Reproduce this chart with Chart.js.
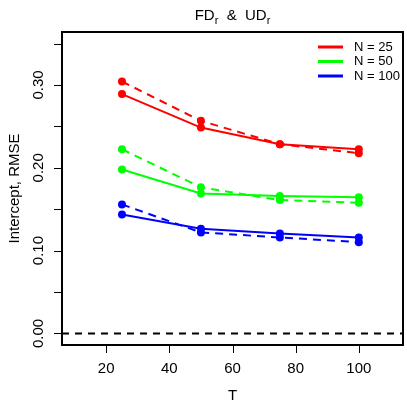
<!DOCTYPE html>
<html>
<head>
<meta charset="utf-8">
<script src="https://cdn.jsdelivr.net/npm/chart.js@4/dist/chart.umd.min.js"></script>
<style>
html,body{margin:0;padding:0;background:#fff;}
#wrap{width:407px;height:407px;}
</style>
</head>
<body>
<div id="wrap"><canvas id="c" width="407" height="407"></canvas></div>
<script>
const T_values = [25, 50, 75, 100];
const n25_solid  = [0.289, 0.2486, 0.2285, 0.2224];
const n25_dashed = [0.3042, 0.2567, 0.2285, 0.2176];
const n50_solid  = [0.198, 0.169, 0.1659, 0.1643];
const n50_dashed = [0.2224, 0.1764, 0.161, 0.1578];
const n100_solid  = [0.1437, 0.1263, 0.1207, 0.1159];
const n100_dashed = [0.1558, 0.1219, 0.1159, 0.1102];
const legendLabels = ["N = 25", "N = 50", "N = 100"];
const seriesColors = ["#ff0000", "#00ff00", "#0000ff"];
const xTicks = [20, 40, 60, 80, 100];
const yTicks = [0, 0.05, 0.10, 0.15, 0.20, 0.25, 0.30, 0.35];
const yLabelTicks = [0, 0.10, 0.20, 0.30];
const yLabels = ["0.00", "0.10", "0.20", "0.30"];

const FONT = "'Liberation Sans', Arial, Helvetica, sans-serif";

function mk(vals, color, dashed) {
  return {
    data: T_values.map((t, i) => ({x: t, y: vals[i]})),
    borderColor: color,
    backgroundColor: color,
    pointBackgroundColor: color,
    pointBorderColor: color,
    pointRadius: 4,
    pointBorderWidth: 0,
    borderWidth: 2,
    borderDash: dashed ? [8, 6] : [],
    fill: false,
    tension: 0
  };
}

const axesPlugin = {
  id: 'rstyle',
  beforeDatasetsDraw(chart) {
    const {ctx, chartArea: a, scales: {x, y}} = chart;
    ctx.save();
    ctx.strokeStyle = '#000';
    ctx.lineWidth = 2;
    ctx.setLineDash([7, 6]);
    const y0 = y.getPixelForValue(0);
    ctx.beginPath();
    ctx.moveTo(a.left, y0);
    ctx.lineTo(a.right, y0);
    ctx.stroke();
    ctx.restore();
  },
  afterDraw(chart) {
    const {ctx, chartArea: a, scales: {x, y}} = chart;
    ctx.save();
    ctx.strokeStyle = '#000';
    ctx.lineWidth = 2;
    ctx.setLineDash([]);
    ctx.strokeRect(a.left, a.top, a.right - a.left, a.bottom - a.top);
    ctx.lineWidth = 1;
    ctx.fillStyle = '#000';
    ctx.font = '15px ' + FONT;
    ctx.textAlign = 'center';
    ctx.textBaseline = 'middle';
    xTicks.forEach(v => {
      const px = Math.round(x.getPixelForValue(v)) + 0.5;
      ctx.beginPath();
      ctx.moveTo(px, a.bottom + 1);
      ctx.lineTo(px, a.bottom + 8);
      ctx.stroke();
      ctx.fillText(String(v), x.getPixelForValue(v), a.bottom + 24);
    });
    yTicks.forEach(v => {
      const py = Math.round(y.getPixelForValue(v)) + 0.5;
      ctx.beginPath();
      ctx.moveTo(a.left - 1, py);
      ctx.lineTo(a.left - 8, py);
      ctx.stroke();
    });
    yLabelTicks.forEach((v, i) => {
      const py = y.getPixelForValue(v);
      ctx.save();
      ctx.translate(a.left - 23, py);
      ctx.rotate(-Math.PI / 2);
      ctx.fillText(yLabels[i], 0, 0);
      ctx.restore();
    });
    ctx.fillText('T', (a.left + a.right) / 2, a.bottom + 51);
    ctx.save();
    ctx.translate(15, (a.top + a.bottom) / 2);
    ctx.rotate(-Math.PI / 2);
    ctx.fillText('Intercept, RMSE', 0, 0);
    ctx.restore();
    const big = '15px ' + FONT, small = '11px ' + FONT;
    const parts = [
      {t: 'FD', f: big, dy: 0},
      {t: 'r', f: small, dy: 4},
      {t: '  &  ', f: big, dy: 0},
      {t: 'UD', f: big, dy: 0},
      {t: 'r', f: small, dy: 4}
    ];
    let total = 0;
    parts.forEach(p => { ctx.font = p.f; p.w = ctx.measureText(p.t).width; total += p.w; });
    let cx = (a.left + a.right) / 2 - total / 2;
    ctx.textAlign = 'left';
    ctx.textBaseline = 'alphabetic';
    parts.forEach(p => {
      ctx.font = p.f;
      ctx.fillText(p.t, cx, 20 + p.dy);
      cx += p.w;
    });
    ctx.font = '13px ' + FONT;
    ctx.textBaseline = 'middle';
    const rows = [47, 61.5, 76];
    legendLabels.forEach((lab, i) => {
      ctx.strokeStyle = seriesColors[i];
      ctx.lineWidth = 3;
      ctx.beginPath();
      ctx.moveTo(318, rows[i]);
      ctx.lineTo(343, rows[i]);
      ctx.stroke();
      ctx.fillStyle = '#000';
      ctx.fillText(lab, 354, rows[i]);
    });
    ctx.restore();
  }
};

new Chart(document.getElementById('c'), {
  type: 'line',
  data: {
    datasets: [
      mk(n25_solid, seriesColors[0], false),
      mk(n25_dashed, seriesColors[0], true),
      mk(n50_solid, seriesColors[1], false),
      mk(n50_dashed, seriesColors[1], true),
      mk(n100_solid, seriesColors[2], false),
      mk(n100_dashed, seriesColors[2], true)
    ]
  },
  options: {
    responsive: false,
    animation: false,
    devicePixelRatio: 1,
    layout: {padding: {left: 62, right: 3, top: 32, bottom: 62}},
    plugins: {legend: {display: false}, title: {display: false}, tooltip: {enabled: false}},
    scales: {
      x: {type: 'linear', min: 6, max: 114, display: false},
      y: {type: 'linear', min: -0.014, max: 0.364, display: false}
    }
  },
  plugins: [axesPlugin]
});
</script>
</body>
</html>
